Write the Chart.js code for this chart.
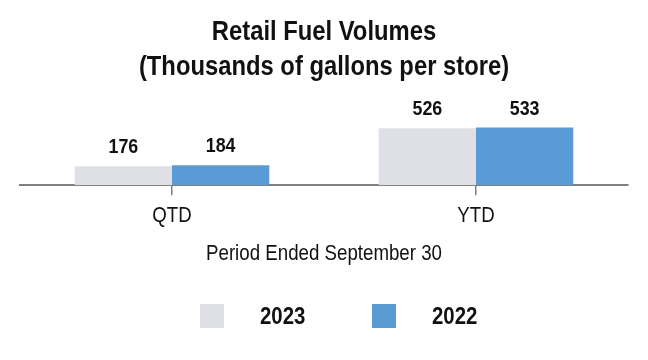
<!DOCTYPE html>
<html>
<head>
<meta charset="utf-8">
<script src="https://cdn.jsdelivr.net/npm/chart.js@4.4.1/dist/chart.umd.min.js"></script>
<style>
  html, body { margin: 0; padding: 0; background: #ffffff; }
  #wrap { width: 648px; height: 360px; }
</style>
</head>
<body>
<div id="wrap"><canvas id="c" width="648" height="360"></canvas></div>
<script>
const categories = ["QTD", "YTD"];
const seriesNames = ["2023", "2022"];
const values2023 = [176, 526];
const values2022 = [184, 533];
const titleLines = ["Retail Fuel Volumes", "(Thousands of gallons per store)"];
const xAxisTitle = "Period Ended September 30";

const FONT = "'Liberation Sans', Arial, sans-serif";
const INK = "#111111";
const NARROW = 0.85; // emulate a condensed (narrow) typeface

const canvas = document.getElementById('c');
const ctx2d = canvas.getContext('2d');
const origFillText = ctx2d.fillText;
ctx2d.fillText = function (text, x, y, maxWidth) {
  this.save();
  this.translate(x, y);
  this.scale(NARROW, 1);
  if (maxWidth !== undefined) origFillText.call(this, text, 0, 0, maxWidth / NARROW);
  else origFillText.call(this, text, 0, 0);
  this.restore();
};

const valueLabels = {
  id: 'valueLabels',
  afterDatasetsDraw(chart) {
    const ctx = chart.ctx;
    ctx.save();
    ctx.font = "bold 21px " + FONT;
    ctx.fillStyle = INK;
    ctx.textAlign = 'center';
    ctx.textBaseline = 'alphabetic';
    chart.data.datasets.forEach((ds, i) => {
      const meta = chart.getDatasetMeta(i);
      meta.data.forEach((el, j) => {
        ctx.fillText(String(ds.data[j]), el.x, el.y - 13);
      });
    });
    ctx.restore();
  }
};

const customLegend = {
  id: 'customLegend',
  afterDraw(chart) {
    const ctx = chart.ctx;
    ctx.save();
    const cx = chart.width / 2;
    const startX = cx - 124;
    const boxY = 304;
    ctx.font = "bold 24px " + FONT;
    ctx.textBaseline = 'middle';
    ctx.textAlign = 'left';
    chart.data.datasets.forEach((ds, i) => {
      const x = startX + i * 172;
      ctx.fillStyle = ds.backgroundColor;
      ctx.fillRect(x, boxY, 24, 24);
      ctx.fillStyle = INK;
      ctx.fillText(ds.label, x + 60, boxY + 13);
    });
    ctx.restore();
  }
};

new Chart(ctx2d, {
  type: 'bar',
  data: {
    labels: categories,
    datasets: [
      { label: seriesNames[0], data: values2023, backgroundColor: '#DFE0E5', borderWidth: 0 },
      { label: seriesNames[1], data: values2022, backgroundColor: '#5B9BD5', borderWidth: 0 }
    ]
  },
  options: {
    responsive: false,
    animation: false,
    devicePixelRatio: 1,
    layout: { padding: { left: 20, right: 20, top: 8, bottom: 93 } },
    datasets: { bar: { barPercentage: 1.0, categoryPercentage: 0.64 } },
    plugins: {
      legend: { display: false },
      tooltip: { enabled: false },
      title: {
        display: true,
        text: titleLines,
        color: INK,
        font: { family: FONT, size: 28, weight: 'bold', lineHeight: 1.28 },
        padding: { top: 6, bottom: 6 }
      }
    },
    scales: {
      x: {
        grid: { display: true, offset: false, drawOnChartArea: false, drawTicks: true, tickLength: 10, color: '#808080', lineWidth: 1.5 },
        border: { display: true, color: '#7f7f7f', width: 2 },
        ticks: { color: INK, font: { family: FONT, size: 22, lineHeight: 1.2 }, padding: 8 },
        title: { display: true, text: xAxisTitle, color: INK, font: { family: FONT, size: 22, lineHeight: 1.2 }, padding: { top: 3, bottom: 0 } }
      },
      y: {
        display: false,
        min: 0,
        max: 865
      }
    }
  },
  plugins: [valueLabels, customLegend]
});
</script>
</body>
</html>
